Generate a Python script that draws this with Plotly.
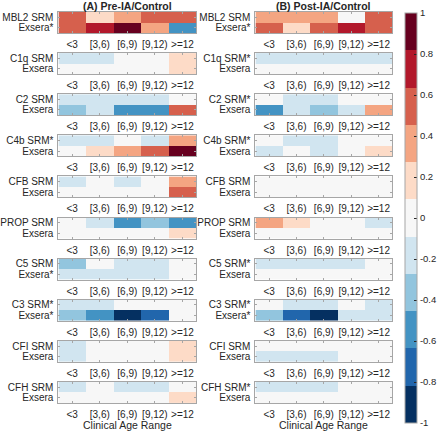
import plotly.graph_objects as go

ages = ["<3", "[3,6)", "[6,9)", "[9,12)", ">=12"]

titles = ["(A) Pre-IA/Control", "(B) Post-IA/Control"]

srm_labels_A = ["MBL2 SRM", "C1q SRM", "C2 SRM", "C4b SRM*", "CFB SRM",
                "PROP SRM", "C5 SRM", "C3 SRM*", "CFI SRM", "CFH SRM"]
exs_labels_A = ["Exsera*", "Exsera", "Exsera", "Exsera", "Exsera",
                "Exsera", "Exsera*", "Exsera*", "Exsera", "Exsera"]
srm_labels_B = ["MBL2 SRM", "C1q SRM*", "C2 SRM*", "C4b SRM*", "CFB SRM",
                "PROP SRM", "C5 SRM*", "C3 SRM*", "CFI SRM", "CFH SRM*"]
exs_labels_B = ["Exsera*", "Exsera", "Exsera", "Exsera", "Exsera",
                "Exsera", "Exsera", "Exsera*", "Exsera", "Exsera"]

# Panel A: Pre-IA/Control
srm_A = [
    [0.55, 0.18, 0.36, 0.55, 0.55],
    [-0.18, -0.18, 0.0, 0.0, 0.18],
    [-0.18, -0.18, -0.18, -0.18, 0.0],
    [-0.18, -0.18, 0.0, -0.18, 0.36],
    [-0.18, 0.0, -0.18, 0.0, 0.36],
    [0.0, -0.18, -0.55, -0.36, -0.55],
    [-0.36, 0.0, -0.18, -0.18, 0.0],
    [-0.18, -0.18, 0.0, 0.0, 0.0],
    [-0.18, 0.0, 0.0, 0.0, 0.18],
    [-0.18, 0.0, -0.18, -0.18, 0.0],
]
exs_A = [
    [0.55, 0.73, 0.91, 0.36, -0.55],
    [0.0, 0.0, 0.0, 0.0, 0.18],
    [-0.36, -0.18, -0.55, -0.55, 0.55],
    [0.0, 0.18, 0.36, 0.55, 0.91],
    [0.0, 0.0, 0.0, 0.0, 0.55],
    [0.0, 0.0, 0.0, 0.0, 0.18],
    [-0.18, -0.18, -0.18, -0.18, 0.0],
    [-0.36, -0.55, -0.91, -0.73, 0.0],
    [-0.18, 0.0, 0.0, 0.0, 0.18],
    [0.0, 0.0, 0.0, 0.0, 0.18],
]

# Panel B: Post-IA/Control
srm_B = [
    [0.36, 0.36, 0.36, 0.0, 0.55],
    [-0.18, -0.18, -0.18, -0.18, -0.18],
    [0.0, -0.18, -0.18, 0.0, 0.0],
    [0.0, -0.18, -0.18, 0.0, 0.0],
    [0.0, 0.0, 0.0, 0.0, 0.0],
    [0.36, 0.18, 0.0, 0.0, -0.18],
    [-0.18, -0.18, -0.18, -0.18, 0.0],
    [0.0, -0.18, -0.18, 0.0, -0.18],
    [0.0, 0.0, 0.0, 0.0, 0.0],
    [-0.18, -0.18, -0.18, 0.0, 0.0],
]
exs_B = [
    [0.55, 0.18, 0.55, 0.73, 0.55],
    [0.0, 0.0, 0.0, 0.0, 0.0],
    [-0.55, -0.18, -0.36, -0.18, 0.36],
    [-0.18, 0.0, -0.18, 0.0, 0.18],
    [0.0, 0.0, 0.0, 0.0, 0.0],
    [0.0, 0.0, 0.0, 0.0, 0.0],
    [0.0, 0.0, 0.0, 0.0, 0.0],
    [-0.36, -0.73, -0.91, -0.18, -0.18],
    [-0.18, -0.18, -0.18, 0.0, 0.0],
    [0.0, 0.0, 0.0, 0.0, 0.0],
]

cbar_ticks = [-1, -0.8, -0.6, -0.4, -0.2, 0, 0.2, 0.4, 0.6, 0.8, 1]
colors = ["#053061", "#2166ac", "#4393c3", "#92c5de", "#d1e5f0", "#f7f7f7",
          "#fddbc7", "#f4a582", "#d6604d", "#b2182b", "#67001f"]

n = len(colors)
colorscale = []
for i, c in enumerate(colors):
    colorscale.append([i / n, c])
    colorscale.append([(i + 1) / n, c])

W, H = 440, 432
font_fam = "Arial, Liberation Sans, sans-serif"
txt_col = "#262626"
frame_col = "#a6a6a6"

panels = [
    (srm_labels_A, exs_labels_A, srm_A, exs_A, (53, 195)),
    (srm_labels_B, exs_labels_B, srm_B, exs_B, (256, 397)),
]

fig = go.Figure()
layout = {}
k = 0
for p, (sl, el, sv, ev, (x0, x1)) in enumerate(panels):
    for i in range(len(sl)):
        k += 1
        top = 12 + i * 41.1
        bot = top + 21
        xa = "x" if k == 1 else f"x{k}"
        ya = "y" if k == 1 else f"y{k}"
        fig.add_trace(go.Heatmap(
            z=[sv[i], ev[i]], x=ages, y=[0, 1],
            xaxis=xa, yaxis=ya,
            zmin=-1, zmax=1, colorscale=colorscale,
            showscale=(k == 1), xgap=0, ygap=0,
            colorbar=dict(
                x=410 / W, xanchor="left", xpad=0, ypad=0,
                y=1 - 218 / H, yanchor="middle",
                lenmode="pixels", len=410,
                thicknessmode="pixels", thickness=12,
                outlinecolor=frame_col, outlinewidth=1,
                tickvals=cbar_ticks, ticktext=[f"{t:g}" for t in cbar_ticks],
                ticks="inside", ticklen=3, tickcolor=txt_col,
                tickfont=dict(size=9.5, color=txt_col, family=font_fam),
            ),
            hovertemplate="%{x}: %{z}<extra></extra>",
        ))
        xk = "xaxis" if k == 1 else f"xaxis{k}"
        yk = "yaxis" if k == 1 else f"yaxis{k}"
        layout[xk] = dict(
            domain=[x0 / W, x1 / W], anchor=ya,
            type="category", categoryorder="array", categoryarray=ages,
            range=[-0.5, 4.5], tickangle=0,
            showline=True, linecolor=frame_col, linewidth=1, mirror="ticks",
            ticks="inside", ticklen=2, tickcolor=frame_col,
            tickfont=dict(size=10, color=txt_col, family=font_fam),
            ticklabelstandoff=2,
            showgrid=False, zeroline=False, fixedrange=True,
        )
        layout[yk] = dict(
            domain=[1 - bot / H, 1 - top / H], anchor=xa,
            range=[1.5, -0.5], tickvals=[0, 1], ticktext=[sl[i], el[i]],
            showline=True, linecolor=frame_col, linewidth=1, mirror="ticks",
            ticks="inside", ticklen=2, tickcolor=frame_col,
            tickfont=dict(size=10, color=txt_col, family=font_fam),
            ticklabelstandoff=2,
            showgrid=False, zeroline=False, fixedrange=True,
        )

annotations = []
for p, (sl, el, sv, ev, (x0, x1)) in enumerate(panels):
    cx = (x0 + x1) / 2 / W
    annotations.append(dict(
        x=cx, y=1 - 6 / H, xref="paper", yref="paper",
        text=f"<b>{titles[p]}</b>", showarrow=False,
        xanchor="center", yanchor="middle",
        font=dict(size=10.5, color=txt_col, family=font_fam),
    ))
    annotations.append(dict(
        x=cx, y=1 - 425 / H, xref="paper", yref="paper",
        text="Clinical Age Range", showarrow=False,
        xanchor="center", yanchor="middle",
        font=dict(size=10.5, color=txt_col, family=font_fam),
    ))

fig.update_layout(
    width=W, height=H,
    margin=dict(l=0, r=0, t=0, b=0),
    paper_bgcolor="white", plot_bgcolor="white",
    font=dict(family=font_fam, color=txt_col),
    annotations=annotations,
    showlegend=False,
    **layout,
)

fig.write_html(
    "out.html",
    config={"displayModeBar": False},
    post_script="document.body.style.margin='0px';document.body.style.overflow='hidden';",
)
